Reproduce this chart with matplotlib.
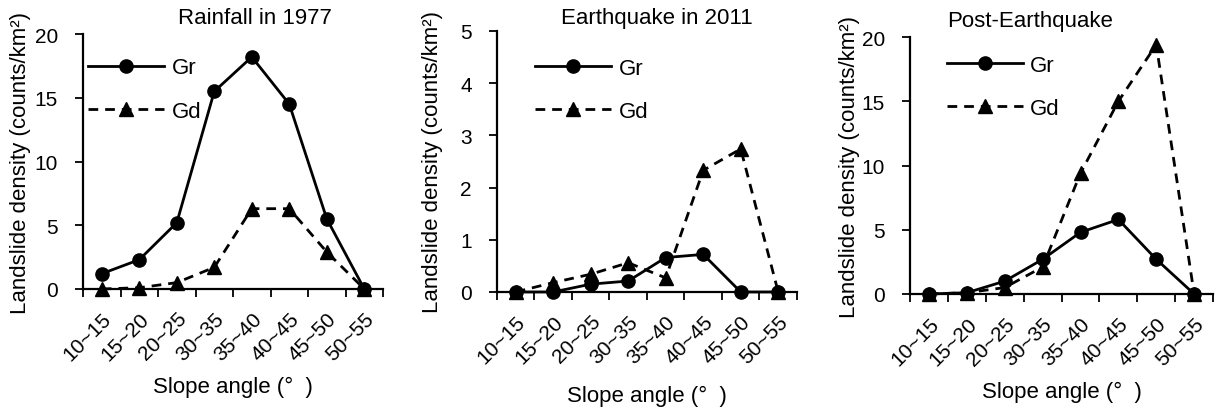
import matplotlib
matplotlib.use("Agg")
import matplotlib.pyplot as plt
import numpy as np

plt.rcParams['font.family'] = ['Liberation Sans', 'DejaVu Sans']

# Slope angle classes (degrees)
slope_classes = ["10~15", "15~20", "20~25", "30~35", "35~40", "40~45", "45~50", "50~55"]

# Landslide density (counts/km^2) per slope class
rain1977_gr = [1.2, 2.3, 5.2, 15.5, 18.2, 14.5, 5.5, 0.0]
rain1977_gd = [0.0, 0.1, 0.5, 1.7, 6.3, 6.3, 2.9, 0.0]

quake2011_gr = [0.0, 0.0, 0.15, 0.21, 0.66, 0.72, 0.0, 0.0]
quake2011_gd = [0.0, 0.18, 0.34, 0.56, 0.27, 2.33, 2.74, 0.0]

post_gr = [0.0, 0.1, 1.0, 2.7, 4.8, 5.8, 2.7, 0.0]
post_gd = [0.0, 0.1, 0.5, 2.1, 9.4, 15.0, 19.4, 0.0]

titles = ["Rainfall in 1977", "Earthquake in 2011", "Post-Earthquake"]
ymax = [20, 5, 20]
ystep = [5, 1, 5]

fig = plt.figure(figsize=(12.16, 4.10), dpi=100)

# axes rectangles in figure fractions [left, bottom, width, height]
rects = [
    [0.0683, 0.2927, 0.2467, 0.6219],
    [0.4087, 0.2854, 0.2467, 0.6366],
    [0.7484, 0.2805, 0.2492, 0.6268],
]
title_x = [0.573, 0.533, 0.396]
title_pad = [8, 6, 8]
ylabel_x = [-0.175, -0.18, -0.165]
xlabel_y = [-0.384, -0.398, -0.381]
legend_anchor = [(0.017, 0.782), (0.127, 0.775), (0.122, 0.805)]
handle_len = [3.4, 3.4, 3.4]

series = [(rain1977_gr, rain1977_gd), (quake2011_gr, quake2011_gd), (post_gr, post_gd)]

x = np.arange(len(slope_classes))
for i in range(3):
    ax = fig.add_axes(rects[i])
    gr, gd = series[i]
    ax.plot(x, gr, color='black', lw=2.0, marker='o', ms=9.5, mfc='black',
            mec='black', label='Gr', clip_on=False, zorder=3)
    ax.plot(x, gd, color='black', lw=2.0, ls=(0, (3.5, 2.5)), marker='^', ms=10,
            mfc='black', mec='black', label='Gd', clip_on=False, zorder=3)

    ax.set_xlim(-0.5, len(slope_classes) - 0.5)
    ax.set_ylim(0, ymax[i])
    ax.set_yticks(np.arange(0, ymax[i] + 0.01, ystep[i]))

    # category labels at centres, tick marks at class boundaries
    ax.set_xticks(x)
    ax.set_xticklabels(slope_classes, rotation=45, ha='right',
                       rotation_mode='anchor', fontsize=15)
    ax.set_xticks(np.arange(-0.5, len(slope_classes)), minor=True)
    ax.tick_params(axis='x', which='major', length=0, pad=14)
    ax.tick_params(axis='x', which='minor', length=6, width=1.3, direction='out')
    ax.tick_params(axis='y', length=6, width=1.3, direction='out', pad=12,
                   labelsize=15)

    for side in ('top', 'right'):
        ax.spines[side].set_visible(False)
    for side in ('left', 'bottom'):
        ax.spines[side].set_linewidth(1.6)

    ax.set_title(titles[i], x=title_x[i], fontsize=16, pad=title_pad[i])
    ax.set_ylabel("Landslide density (counts/km²)", fontsize=16)
    ax.yaxis.set_label_coords(ylabel_x[i], 0.5)
    ax.set_xlabel("Slope angle (°  )", fontsize=16, va='center')
    ax.xaxis.set_label_coords(0.5, xlabel_y[i])

    ax.legend(loc='center left', bbox_to_anchor=legend_anchor[i], frameon=False,
              fontsize=16, handlelength=handle_len[i], handletextpad=0.35,
              labelspacing=1.0, borderpad=0, borderaxespad=0, numpoints=1)

fig.savefig("out.png", dpi=100)
